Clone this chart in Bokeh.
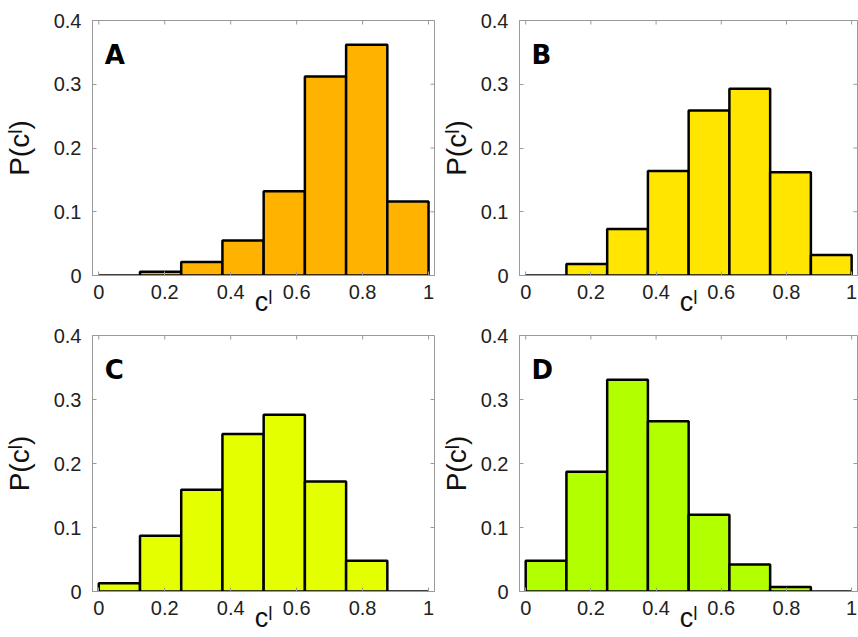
from bokeh.plotting import figure
from bokeh.models import LinearAxis, FixedTicker, ColumnDataSource
from bokeh.layouts import gridplot
from bokeh.core.properties import value
from bokeh.embed import file_html
from bokeh.resources import INLINE

# ---- data ----
bin_left = [0.0, 0.125, 0.25, 0.375, 0.5, 0.625, 0.75, 0.875]
bin_right = [0.125, 0.25, 0.375, 0.5, 0.625, 0.75, 0.875, 1.0]
panel_names = ["A", "B", "C", "D"]
p_A = [0.0, 0.006, 0.021, 0.055, 0.132, 0.312, 0.362, 0.116]
p_B = [0.0, 0.018, 0.073, 0.164, 0.259, 0.293, 0.162, 0.032]
p_C = [0.013, 0.087, 0.159, 0.246, 0.276, 0.172, 0.048, 0.0]
p_D = [0.048, 0.187, 0.331, 0.266, 0.120, 0.042, 0.007, 0.0]
panel_colors = ["#FFB300", "#FFE500", "#E4FF00", "#B2FF00"]
x_ticks = [0, 0.2, 0.4, 0.6, 0.8, 1.0]
x_tick_labels = ["0", "0.2", "0.4", "0.6", "0.8", "1"]
y_ticks = [0, 0.1, 0.2, 0.3, 0.4]
y_tick_labels = ["0", "0.1", "0.2", "0.3", "0.4"]
x_label = "c\u02e1"
y_label = "P(c\u02e1)"

FONT = "Liberation Sans"
FRAME = "#9a9a9a"
XMIN, XMAX = -0.019, 1.018
YMIN, YMAX = 0.0, 0.4


def make_panel(name, vals, color, width, height, bl, br, bt, bb, ylab_standoff):
    p = figure(width=width, height=height, x_range=(XMIN, XMAX), y_range=(YMIN, YMAX),
               output_backend="svg", toolbar_location=None,
               min_border_left=bl, min_border_right=br, min_border_top=bt, min_border_bottom=bb,
               x_axis_location=None, y_axis_location=None)
    p.grid.visible = False
    p.outline_line_color = FRAME
    p.outline_line_width = 1
    p.background_fill_color = "white"
    p.border_fill_color = "white"

    frame_w = width - bl - br
    frame_h = height - bt - bb
    tick_len_y = 4.0 * (YMAX - YMIN) / frame_h
    tick_len_x = 4.0 * (XMAX - XMIN) / frame_w

    src = ColumnDataSource(dict(left=bin_left, right=bin_right, top=vals, bottom=[0] * len(vals)))
    p.quad(left="left", right="right", top="top", bottom="bottom", source=src,
           fill_color=color, line_color="black", line_width=2.5)

    # mirrored inward ticks on the top and right edges
    p.segment(x0=x_ticks, y0=[YMAX] * len(x_ticks), x1=x_ticks,
              y1=[YMAX - tick_len_y] * len(x_ticks), line_color=FRAME, line_width=1)
    p.segment(x0=[XMAX] * len(y_ticks), y0=y_ticks, x1=[XMAX - tick_len_x] * len(y_ticks),
              y1=y_ticks, line_color=FRAME, line_width=1)

    xo = {t: l for t, l in zip(x_ticks, x_tick_labels)}
    yo = {t: l for t, l in zip(y_ticks, y_tick_labels)}

    xb = LinearAxis(ticker=FixedTicker(ticks=x_ticks), major_label_overrides=xo)
    yl = LinearAxis(ticker=FixedTicker(ticks=y_ticks), major_label_overrides=yo)
    for ax in (xb, yl):
        ax.major_tick_in = 4
        ax.major_tick_out = 0
        ax.minor_tick_in = 0
        ax.minor_tick_out = 0
        ax.axis_line_color = FRAME
        ax.major_tick_line_color = FRAME
        ax.major_label_text_font = FONT
        ax.major_label_text_font_size = "20px"
        ax.major_label_text_color = "#222222"
        ax.axis_label_text_font = FONT
        ax.axis_label_text_font_style = "normal"
        ax.axis_label_text_color = "#111111"
    xb.major_label_standoff = 9
    yl.major_label_standoff = 11
    xb.axis_label = x_label
    xb.axis_label_text_font_size = "27px"
    xb.axis_label_standoff = -15
    yl.axis_label = y_label
    yl.axis_label_text_font_size = "28px"
    yl.axis_label_standoff = ylab_standoff
    p.add_layout(xb, "below")
    p.add_layout(yl, "left")

    p.text(x=[0.018], y=[0.346], text=[name], text_font=value("DejaVu Sans"),
           text_font_style="bold", text_font_size="26px", text_color="black",
           text_baseline="alphabetic", text_align="left")
    return p


pA = make_panel(panel_names[0], p_A, panel_colors[0], 436, 326, 92, 2, 20, 51, 16)
pB = make_panel(panel_names[1], p_B, panel_colors[1], 422, 326, 83, 1, 20, 51, 6)
pC = make_panel(panel_names[2], p_C, panel_colors[2], 436, 311, 92, 2, 9, 46, 16)
pD = make_panel(panel_names[3], p_D, panel_colors[3], 422, 311, 83, 1, 9, 46, 6)

grid = gridplot([[pA, pB], [pC, pD]], toolbar_location=None)

open("out.html", "w").write(file_html(grid, INLINE))
